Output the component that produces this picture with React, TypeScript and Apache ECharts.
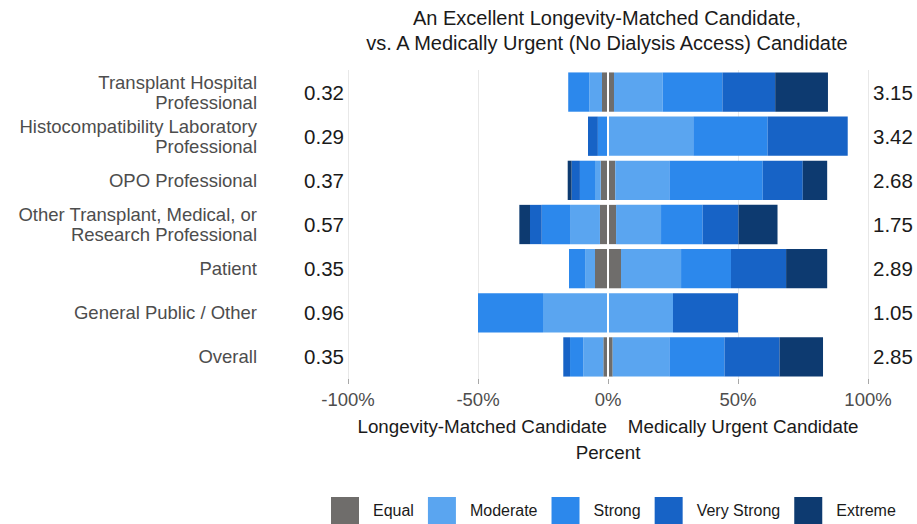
import React, { useEffect, useRef } from "react";
import * as echarts from "echarts";

const categories = [
  "Transplant Hospital\nProfessional",
  "Histocompatibility Laboratory\nProfessional",
  "OPO Professional",
  "Other Transplant, Medical, or\nResearch Professional",
  "Patient",
  "General Public / Other",
  "Overall",
];

const leftMeans = ["0.32", "0.29", "0.37", "0.57", "0.35", "0.96", "0.35"];
const rightMeans = ["3.15", "3.42", "2.68", "1.75", "2.89", "1.05", "2.85"];

const levels = ["Equal", "Moderate", "Strong", "Very Strong", "Extreme"];
const levelColors = ["#6f6d6b", "#5aa5f0", "#2c88ec", "#1763c6", "#0d3a70"];

// Equal total (split half on each side of 0)
const equalTotal = [4.6, 0, 5.6, 6.2, 10.0, 0, 3.6];

// Longevity-Matched side (percent, drawn to the left)
const leftModerate = [4.9, 0, 2.2, 11.5, 3.8, 25, 7.7];
const leftStrong = [8.1, 3.9, 5.8, 10.9, 6.2, 25, 5.1];
const leftVeryStrong = [0, 3.8, 3.2, 4.5, 0, 0, 2.6];
const leftExtreme = [0, 0, 1.5, 4.1, 0, 0, 0];

// Medically Urgent side (percent, drawn to the right)
const rightModerate = [18.7, 32.8, 20.8, 17.3, 23.1, 25, 21.8];
const rightStrong = [23.0, 28.6, 35.9, 16.0, 19.2, 0, 21.2];
const rightVeryStrong = [20.3, 30.8, 15.4, 13.8, 21.2, 25, 21.2];
const rightExtreme = [20.3, 0, 9.4, 15.0, 15.8, 0, 16.7];

const xTicks = [-100, -50, 0, 50, 100];

const FONT = "'Liberation Sans', Arial, Helvetica, sans-serif";

export default function App() {
  const ref = useRef<HTMLDivElement>(null);

  useEffect(() => {
    if (!ref.current) return;
    const chart = echarts.init(ref.current, undefined, { renderer: "svg" });

    const leftSets = [
      equalTotal.map((v) => -v / 2),
      leftModerate.map((v) => -v),
      leftStrong.map((v) => -v),
      leftVeryStrong.map((v) => -v),
      leftExtreme.map((v) => -v),
    ];
    const rightSets = [
      equalTotal.map((v) => v / 2),
      rightModerate,
      rightStrong,
      rightVeryStrong,
      rightExtreme,
    ];

    const series: any[] = [];
    levels.forEach((name, i) => {
      series.push({
        name,
        type: "bar",
        stack: "total",
        barWidth: "89%",
        data: leftSets[i],
        itemStyle: { color: levelColors[i] },
        emphasis: { disabled: true },
      });
    });
    levels.forEach((name, i) => {
      series.push({
        name,
        type: "bar",
        stack: "total",
        barWidth: "89%",
        data: rightSets[i],
        itemStyle: { color: levelColors[i] },
        emphasis: { disabled: true },
      });
    });
    series[series.length - 1].markLine = {
      silent: true,
      symbol: "none",
      label: { show: false },
      lineStyle: { color: "#ffffff", width: 2, type: "solid" },
      data: [{ xAxis: 0 }],
    };

    const option = {
      animation: false,
      backgroundColor: "#ffffff",
      textStyle: { fontFamily: FONT },
      grid: { left: 348, right: 49, top: 70, height: 309, containLabel: false },
      graphic: [
        {
          type: "text",
          x: 607,
          y: 5,
          style: {
            text: "An Excellent Longevity-Matched Candidate,\nvs. A Medically Urgent (No Dialysis Access) Candidate",
            textAlign: "center",
            fontFamily: FONT,
            fontSize: 20,
            lineHeight: 25,
            fill: "#1a1a1a",
          },
        },
      ],
      legend: {
        data: levels,
        selectedMode: false,
        left: 331,
        top: 497,
        padding: 0,
        icon: "rect",
        itemWidth: 28,
        itemHeight: 27,
        itemGap: 14,
        textStyle: {
          fontFamily: FONT,
          fontSize: 16,
          color: "#1a1a1a",
          padding: [0, 0, 0, 9],
        },
      },
      xAxis: {
        type: "value",
        min: xTicks[0],
        max: xTicks[xTicks.length - 1],
        interval: 50,
        axisLine: { show: false },
        axisTick: { show: true, length: 5, lineStyle: { color: "#a8a8a8", width: 1 } },
        axisLabel: {
          formatter: (v: number) => `${v}%`,
          fontFamily: FONT,
          fontSize: 18.5,
          color: "#4d4d4d",
          margin: 11,
        },
        splitLine: { show: true, lineStyle: { color: "#e8e8e8", width: 1 } },
        name: "Longevity-Matched Candidate    Medically Urgent Candidate\nPercent",
        nameLocation: "middle",
        nameGap: 32,
        nameTextStyle: {
          fontFamily: FONT,
          fontSize: 18.8,
          lineHeight: 26,
          color: "#1a1a1a",
          verticalAlign: "top",
        },
      },
      yAxis: [
        {
          type: "category",
          data: categories,
          inverse: true,
          position: "left",
          axisLine: { show: false },
          axisTick: { show: false },
          splitLine: { show: false },
          axisLabel: {
            margin: 91,
            fontFamily: FONT,
            fontSize: 18.5,
            lineHeight: 20,
            color: "#4d4d4d",
            align: "right",
          },
        },
        {
          type: "category",
          data: categories,
          inverse: true,
          position: "left",
          axisLine: { show: false },
          axisTick: { show: false },
          splitLine: { show: false },
          axisLabel: {
            formatter: (_v: string, i: number) => leftMeans[i],
            margin: 4,
            fontFamily: FONT,
            fontSize: 20.5,
            color: "#1a1a1a",
          },
        },
        {
          type: "category",
          data: categories,
          inverse: true,
          position: "right",
          axisLine: { show: false },
          axisTick: { show: false },
          splitLine: { show: false },
          axisLabel: {
            formatter: (_v: string, i: number) => rightMeans[i],
            margin: 5,
            fontFamily: FONT,
            fontSize: 20.5,
            color: "#1a1a1a",
          },
        },
      ],
      series,
    };

    chart.setOption(option as any);
    return () => chart.dispose();
  }, []);

  return (
    <div
      ref={ref}
      style={{ position: "fixed", left: 0, top: 0, width: 917, height: 524 }}
    />
  );
}
